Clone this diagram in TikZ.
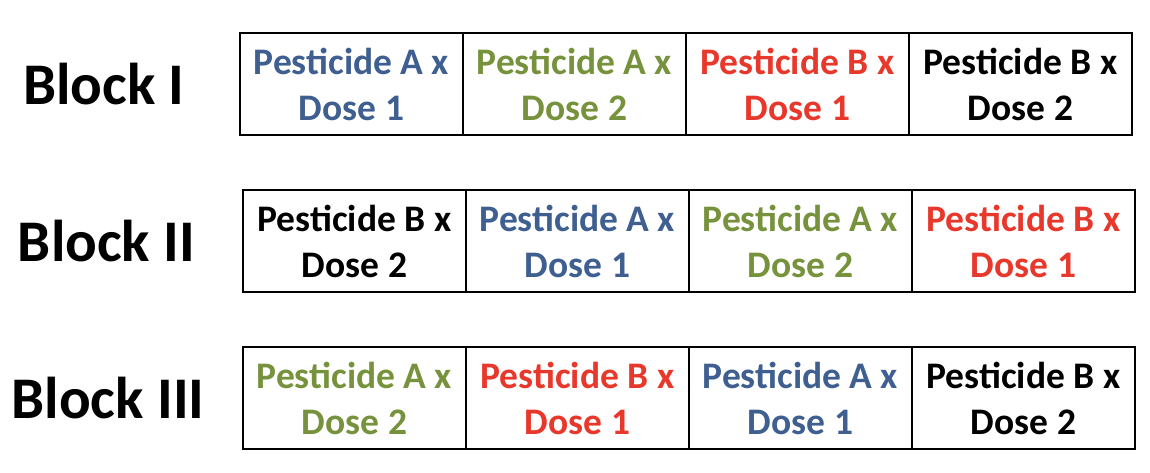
\documentclass[tikz,border=0pt]{standalone}
\usepackage{fontspec}
\setmainfont{Carlito}
\definecolor{cblue}{HTML}{3F5F91}
\definecolor{cgreen}{HTML}{77923C}
\definecolor{cred}{HTML}{E8372B}
\definecolor{cblack}{HTML}{000000}
\begin{document}
\begin{tikzpicture}[x=1pt,y=-1pt,
  cell/.style={draw=black,line width=1.8pt,minimum width=223pt,minimum height=102pt,
    inner sep=0pt,align=center,font=\fontsize{37.5}{46}\selectfont\bfseries},
  blocklabel/.style={anchor=base,inner sep=0pt,font=\fontsize{59}{60}\selectfont\bfseries}]
\useasboundingbox (0,0) rectangle (1150,472);
% labels
\node[blocklabel] (b1) at (104,104) {Block I};
\node[blocklabel] (b2) at (106.5,261) {Block II};
\node[blocklabel] (b3) at (108,418) {Block III};
% row 1
\node[cell,text=cblue]  (r1c1) at (351.5,84) {Pesticide A x\\Dose 1};
\node[cell,text=cgreen] (r1c2) at (574.5,84) {Pesticide A x\\Dose 2};
\node[cell,text=cred]   (r1c3) at (797.5,84) {Pesticide B x\\Dose 1};
\node[cell,text=cblack] (r1c4) at (1020.5,84) {Pesticide B x\\Dose 2};
% row 2
\node[cell,text=cblack] (r2c1) at (354.5,241) {Pesticide B x\\Dose 2};
\node[cell,text=cblue]  (r2c2) at (577.5,241) {Pesticide A x\\Dose 1};
\node[cell,text=cgreen] (r2c3) at (800.5,241) {Pesticide A x\\Dose 2};
\node[cell,text=cred]   (r2c4) at (1023.5,241) {Pesticide B x\\Dose 1};
% row 3
\node[cell,text=cgreen] (r3c1) at (354.5,398) {Pesticide A x\\Dose 2};
\node[cell,text=cred]   (r3c2) at (577.5,398) {Pesticide B x\\Dose 1};
\node[cell,text=cblue]  (r3c3) at (800.5,398) {Pesticide A x\\Dose 1};
\node[cell,text=cblack] (r3c4) at (1023.5,398) {Pesticide B x\\Dose 2};
\end{tikzpicture}
\end{document}
